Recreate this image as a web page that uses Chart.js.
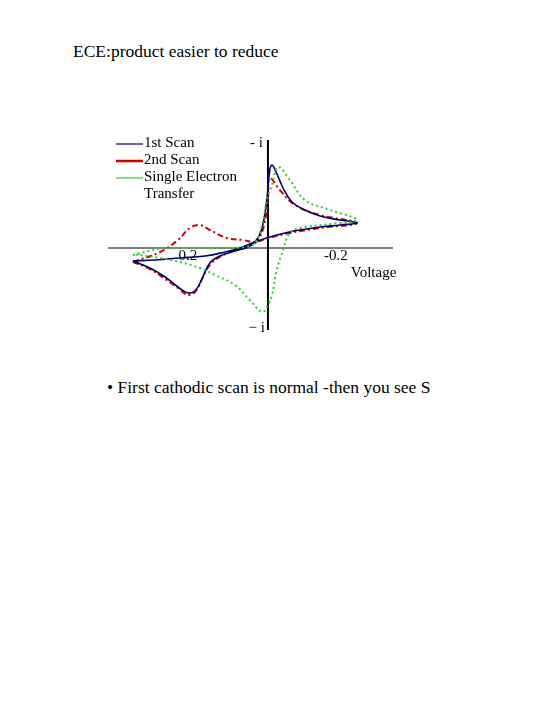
<!DOCTYPE html>
<html>
<head>
<meta charset="utf-8">
<script src="https://cdn.jsdelivr.net/npm/chart.js@4"></script>
<style>
  body { margin: 0; background: #fff; font-family: "Liberation Serif", serif; }
  .txt { position: absolute; color: #000; white-space: nowrap; }
  #wrap { position: absolute; left: 100px; top: 130px; width: 300px; height: 210px; }
</style>
</head>
<body>
<div class="txt" style="left:73px;top:41px;font-size:17.5px;">ECE:product easier to reduce</div>
<div class="txt" style="left:107px;top:377px;font-size:17.5px;">• First cathodic scan is normal -then you see S</div>
<div id="wrap"><canvas id="cv"></canvas></div>
<script>
// voltage (V) and current (arbitrary units)
const scan1V = [0.365, 0.319, 0.278, 0.243, 0.216, 0.195, 0.176, 0.157, 0.130, 0.089, 0.049, 0.027, 0.014, 0.003, -0.005, -0.011, -0.022, -0.041, -0.065, -0.100, -0.141, -0.195, -0.241,
                -0.195, -0.141, -0.086, -0.046, -0.005, 0.035, 0.076, 0.116, 0.170, 0.238, 0.305, 0.365];
const scan1I = [-1.3, -2.0, -2.9, -3.9, -4.5, -4.2, -2.9, -1.5, -0.8, -0.3, 0.2, 1.0, 2.3, 4.8, 7.8, 8.3, 7.6, 6.0, 4.6, 3.8, 3.2, 2.8, 2.5,
                2.3, 2.1, 1.8, 1.5, 1.1, 0.6, 0.0, -0.4, -0.8, -1.0, -1.2, -1.3];
const scan2V = [0.365, 0.319, 0.278, 0.243, 0.216, 0.195, 0.157, 0.103, 0.049, 0.022, 0.005, 0.000, -0.005, -0.032, -0.073, -0.141, -0.241,
                -0.141, -0.059, 0.000, 0.035, 0.068, 0.111, 0.157, 0.184, 0.211, 0.243, 0.292, 0.365];
const scan2I = [-1.4, -2.1, -3.1, -4.0, -4.7, -4.3, -1.7, -0.4, 0.2, 1.1, 3.3, 5.3, 7.0, 5.8, 4.3, 3.3, 2.5,
                2.0, 1.5, 1.0, 0.6, 0.8, 1.0, 1.8, 2.3, 2.0, 0.8, -0.4, -1.4];
const setV = [0.365, 0.292, 0.130, 0.062, 0.035, 0.016, 0.003, -0.011, -0.027, -0.059, -0.100, -0.168, -0.241,
              -0.168, -0.086, -0.059, -0.041, -0.024, -0.011, 0.000, 0.016, 0.049, 0.089, 0.143, 0.184, 0.238, 0.292, 0.365];
const setI = [-0.7, -0.1, 0.0, 0.1, 0.5, 2.3, 4.8, 6.3, 8.1, 6.8, 4.8, 3.8, 2.8,
              2.4, 2.0, 1.5, -0.2, -2.2, -4.7, -5.7, -6.4, -5.2, -3.7, -2.7, -2.0, -1.4, -1.0, -0.6];
const xTicks = [0.2, -0.2];

function pts(xs, ys) { return xs.map((x, i) => ({ x: x, y: ys[i] })); }

const axesPlugin = {
  id: 'axes',
  beforeDatasetsDraw(chart) {
    const { ctx, scales: { x, y } } = chart;
    const x0 = x.getPixelForValue(0), y0 = y.getPixelForValue(0);
    ctx.save();
    ctx.strokeStyle = '#000';
    ctx.lineWidth = 1;
    ctx.beginPath();
    ctx.moveTo(x.getPixelForValue(0.432), y0);
    ctx.lineTo(x.getPixelForValue(-0.338), y0);
    ctx.stroke();
    ctx.lineWidth = 2;
    ctx.beginPath();
    ctx.moveTo(x0, y.getPixelForValue(10.8));
    ctx.lineTo(x0, y.getPixelForValue(-8.2));
    ctx.stroke();
    ctx.fillStyle = '#000';
    ctx.font = '15px "Liberation Serif"';
    ctx.textAlign = 'center';
    ctx.textBaseline = 'top';
    xTicks.forEach(t => ctx.fillText(t.toFixed(1), x.getPixelForValue(t) - 6, y0 + 1));
    ctx.textAlign = 'left';
    ctx.fillText('Voltage', x.getPixelForValue(-0.224), y0 + 18);
    ctx.textAlign = 'right';
    ctx.fillText('- i', x0 - 5, y.getPixelForValue(11.2));
    ctx.fillText('\u2212 i', x0 - 3, y.getPixelForValue(-7.3));
    // legend
    const items = [['1st Scan', '#000066', 1.2], ['2nd Scan', '#cc0000', 2.5], ['Single Electron', '#33cc33', 1.2]];
    ctx.textAlign = 'left';
    items.forEach((it, i) => {
      const ly = 14 + i * 17;
      ctx.strokeStyle = it[1];
      ctx.lineWidth = it[2];
      ctx.beginPath();
      ctx.moveTo(16, ly);
      ctx.lineTo(43, ly);
      ctx.stroke();
      ctx.fillText(it[0], 44, ly - 8);
    });
    ctx.fillText('Transfer', 44, 57);
    ctx.restore();
  }
};

new Chart(document.getElementById('cv'), {
  type: 'scatter',
  data: {
    datasets: [
      { data: pts(setV, setI), borderColor: '#33cc33', borderWidth: 2, borderDash: [2, 3], showLine: true, pointRadius: 0, tension: 0.4 },
      { data: pts(scan1V, scan1I), borderColor: '#000066', borderWidth: 1.6, showLine: true, pointRadius: 0, tension: 0.4 },
      { data: pts(scan2V, scan2I), borderColor: '#cc0000', borderWidth: 2, borderDash: [6, 3, 2, 3], showLine: true, pointRadius: 0, tension: 0.4 }
    ]
  },
  options: {
    responsive: true,
    maintainAspectRatio: false,
    animation: false,
    layout: { padding: 0 },
    plugins: { legend: { display: false }, tooltip: { enabled: false } },
    scales: {
      x: { type: 'linear', reverse: true, min: -0.357, max: 0.454, display: false },
      y: { type: 'linear', min: -9.2, max: 11.8, display: false }
    }
  },
  plugins: [axesPlugin]
});
</script>
</body>
</html>
